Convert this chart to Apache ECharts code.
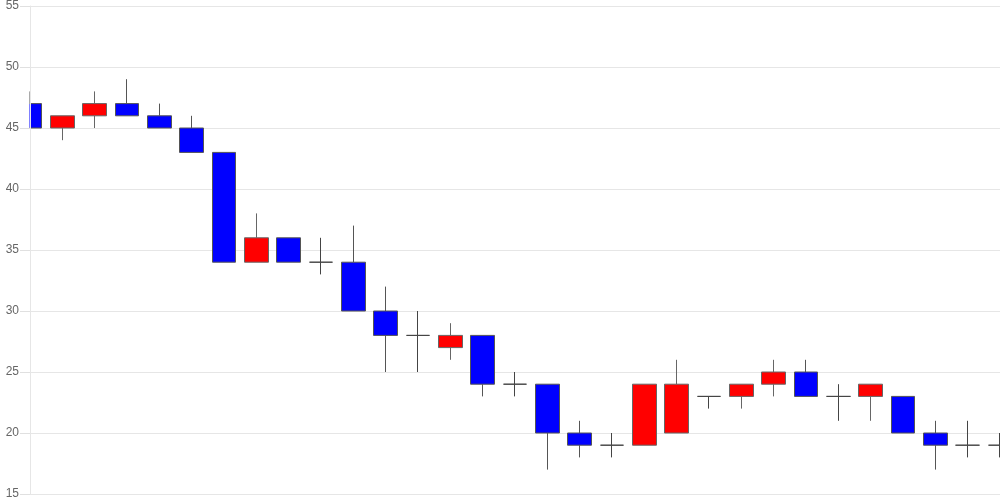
<!DOCTYPE html>
<html><head><meta charset="utf-8">
<script src="https://cdn.jsdelivr.net/npm/echarts@6/dist/echarts.min.js"></script>
<style>html,body{margin:0;padding:0;background:#fff}#c{width:1000px;height:500px}</style>
</head><body><div id="c"></div>
<script>
const categories = ['1','2','3','4','5','6','7','8','9','10','11','12','13','14','15','16','17','18','19','20','21','22','23','24','25','26','27','28','29','30','31'];
const openValues  = [47,45,46,47,46,45,43,34,36,34,34,30,28,27,28,24,24,20,19,19,20,23,23,24,25,23,23,23,20,19,19];
const closeValues = [45,46,47,46,45,43,34,36,34,34,30,28,28,28,24,24,20,19,19,24,24,23,24,25,23,23,24,20,19,19,19];
const lowValues   = [45,44,45,46,45,43,34,34,34,33,30,25,25,26,23,23,17,18,18,19,20,22,22,23,23,21,21,20,17,18,18];
const highValues  = [48,46,48,49,47,46,43,38,36,36,37,32,30,29,28,25,24,21,20,24,26,23,24,26,26,24,24,23,21,21,20];
const yTicks = [15,20,25,30,35,40,45,50,55];

const data = categories.map((c,i)=>[openValues[i],closeValues[i],lowValues[i],highValues[i]]);
const yMin = yTicks[0], yMax = yTicks[yTicks.length-1];
const chart = echarts.init(document.getElementById('c'));
chart.setOption({
  animation:false,
  grid:{left:30,right:0,top:6,bottom:6,containLabel:false},
  graphic:[{type:'rect',left:0,top:0,shape:{width:29.5,height:500},style:{fill:'#fff'},z:5,silent:true}],
  xAxis:{type:'category',data:categories,boundaryGap:false,
    axisLine:{show:false},axisTick:{show:false},axisLabel:{show:false},splitLine:{show:false}},
  yAxis:[
    {type:'value',min:yMin,max:yMax,interval:5,z:0,
     axisLine:{show:false},axisTick:{show:false},axisLabel:{show:false},
     splitLine:{lineStyle:{color:'#e6e6e6'}}},
    {type:'value',position:'left',offset:0,min:yMin,max:yMax,interval:5,z:10,
     axisLine:{show:true,onZero:false,lineStyle:{color:'#e6e6e6'}},
     axisTick:{show:true,length:10,lineStyle:{color:'#e0e0e0'}},
     axisLabel:{color:'#666',fontSize:12,margin:11,fontFamily:'Liberation Sans, Arial, sans-serif'},
     splitLine:{show:false}}
  ],
  series:[{type:'candlestick',data:data,barWidth:24,yAxisIndex:0,z:2,
    itemStyle:{color:'#ff0000',color0:'#0000ff',borderColor:'#666',borderColor0:'#555',borderColorDoji:'#444',borderWidth:1}}]
});
</script></body></html>
